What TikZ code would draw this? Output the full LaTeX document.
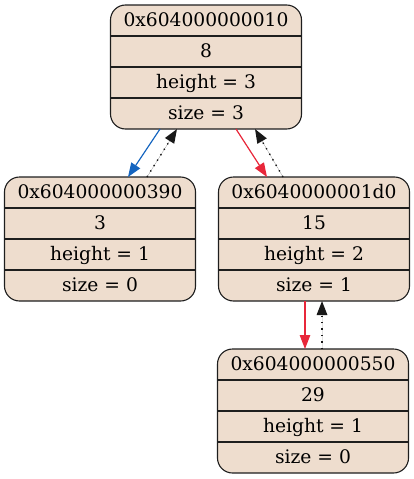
\documentclass[tikz,border=0pt]{standalone}
\usepackage{fontspec}
\setmainfont{DejaVu Serif}
\usetikzlibrary{calc,arrows.meta}
\definecolor{nodefill}{RGB}{238,221,206}
\definecolor{edgeblue}{RGB}{21,101,192}
\definecolor{edgered}{RGB}{232,39,58}
\definecolor{bordercol}{RGB}{30,30,30}
\tikzset{
  avlbox/.style={draw=bordercol, line width=1.1pt, fill=nodefill, rounded corners=15pt,
    minimum width=191pt, minimum height=124pt, inner sep=0pt, outer sep=0pt},
  rowline/.style={draw=bordercol, line width=1.1pt},
  lbl/.style={inner sep=0pt, anchor=base, font=\fontsize{18.67pt}{22pt}\selectfont},
  tip/.style={-{Triangle[length=14pt,width=10.5pt]}},
  childedge/.style={tip, line width=1.2pt},
  parentedge/.style={tip, line width=1.4pt, dash pattern=on 1.4pt off 5pt, draw=black!90, fill=black!90},
}
\newcommand\avlnode[7]{%
  \node[avlbox] (#1) at (#2,#3) {};
  \foreach \k in {1,2,3} {\draw[rowline] ($(#1.north west)+(0,31*\k)$) -- ($(#1.north east)+(0,31*\k)$);}
  \node[lbl] (#1-a) at ($(#1.north)+(0,21.5)$) {#4};
  \node[lbl] (#1-b) at ($(#1.north)+(0,52.5)$) {#5};
  \node[lbl] (#1-c) at ($(#1.north)+(0,83.5)$) {#6};
  \node[lbl] (#1-d) at ($(#1.north)+(0,114.5)$) {#7};
}
\begin{document}
\begin{tikzpicture}[x=1pt,y=-1pt]
\useasboundingbox (0,0) rectangle (413,479);
\avlnode{top}{206}{67}{0x604000000010}{8}{height = 3}{size = 3}
\avlnode{left}{100}{239}{0x604000000390}{3}{height = 1}{size = 0}
\avlnode{right}{314}{239}{0x6040000001d0}{15}{height = 2}{size = 1}
\avlnode{bot}{313}{411}{0x604000000550}{29}{height = 1}{size = 0}
% top -> left
\draw[childedge, draw=edgeblue, fill=edgeblue] ($(top.south)+(-46,0)$) -- ($(left.north)+(28,0)$);
\draw[parentedge] ($(left.north)+(47,0)$) -- ($(top.south)+(-29,0)$);
% top -> right
\draw[childedge, draw=edgered, fill=edgered] ($(top.south)+(30,0)$) -- ($(right.north)+(-47,0)$);
\draw[parentedge] ($(right.north)+(-31,0)$) -- ($(top.south)+(49,0)$);
% right -> bot
\draw[childedge, draw=edgered, fill=edgered] ($(right.south)+(-9,0)$) -- ($(bot.north)+(-8,0)$);
\draw[parentedge] ($(bot.north)+(9,0)$) -- ($(right.south)+(8,0)$);
\end{tikzpicture}
\end{document}
